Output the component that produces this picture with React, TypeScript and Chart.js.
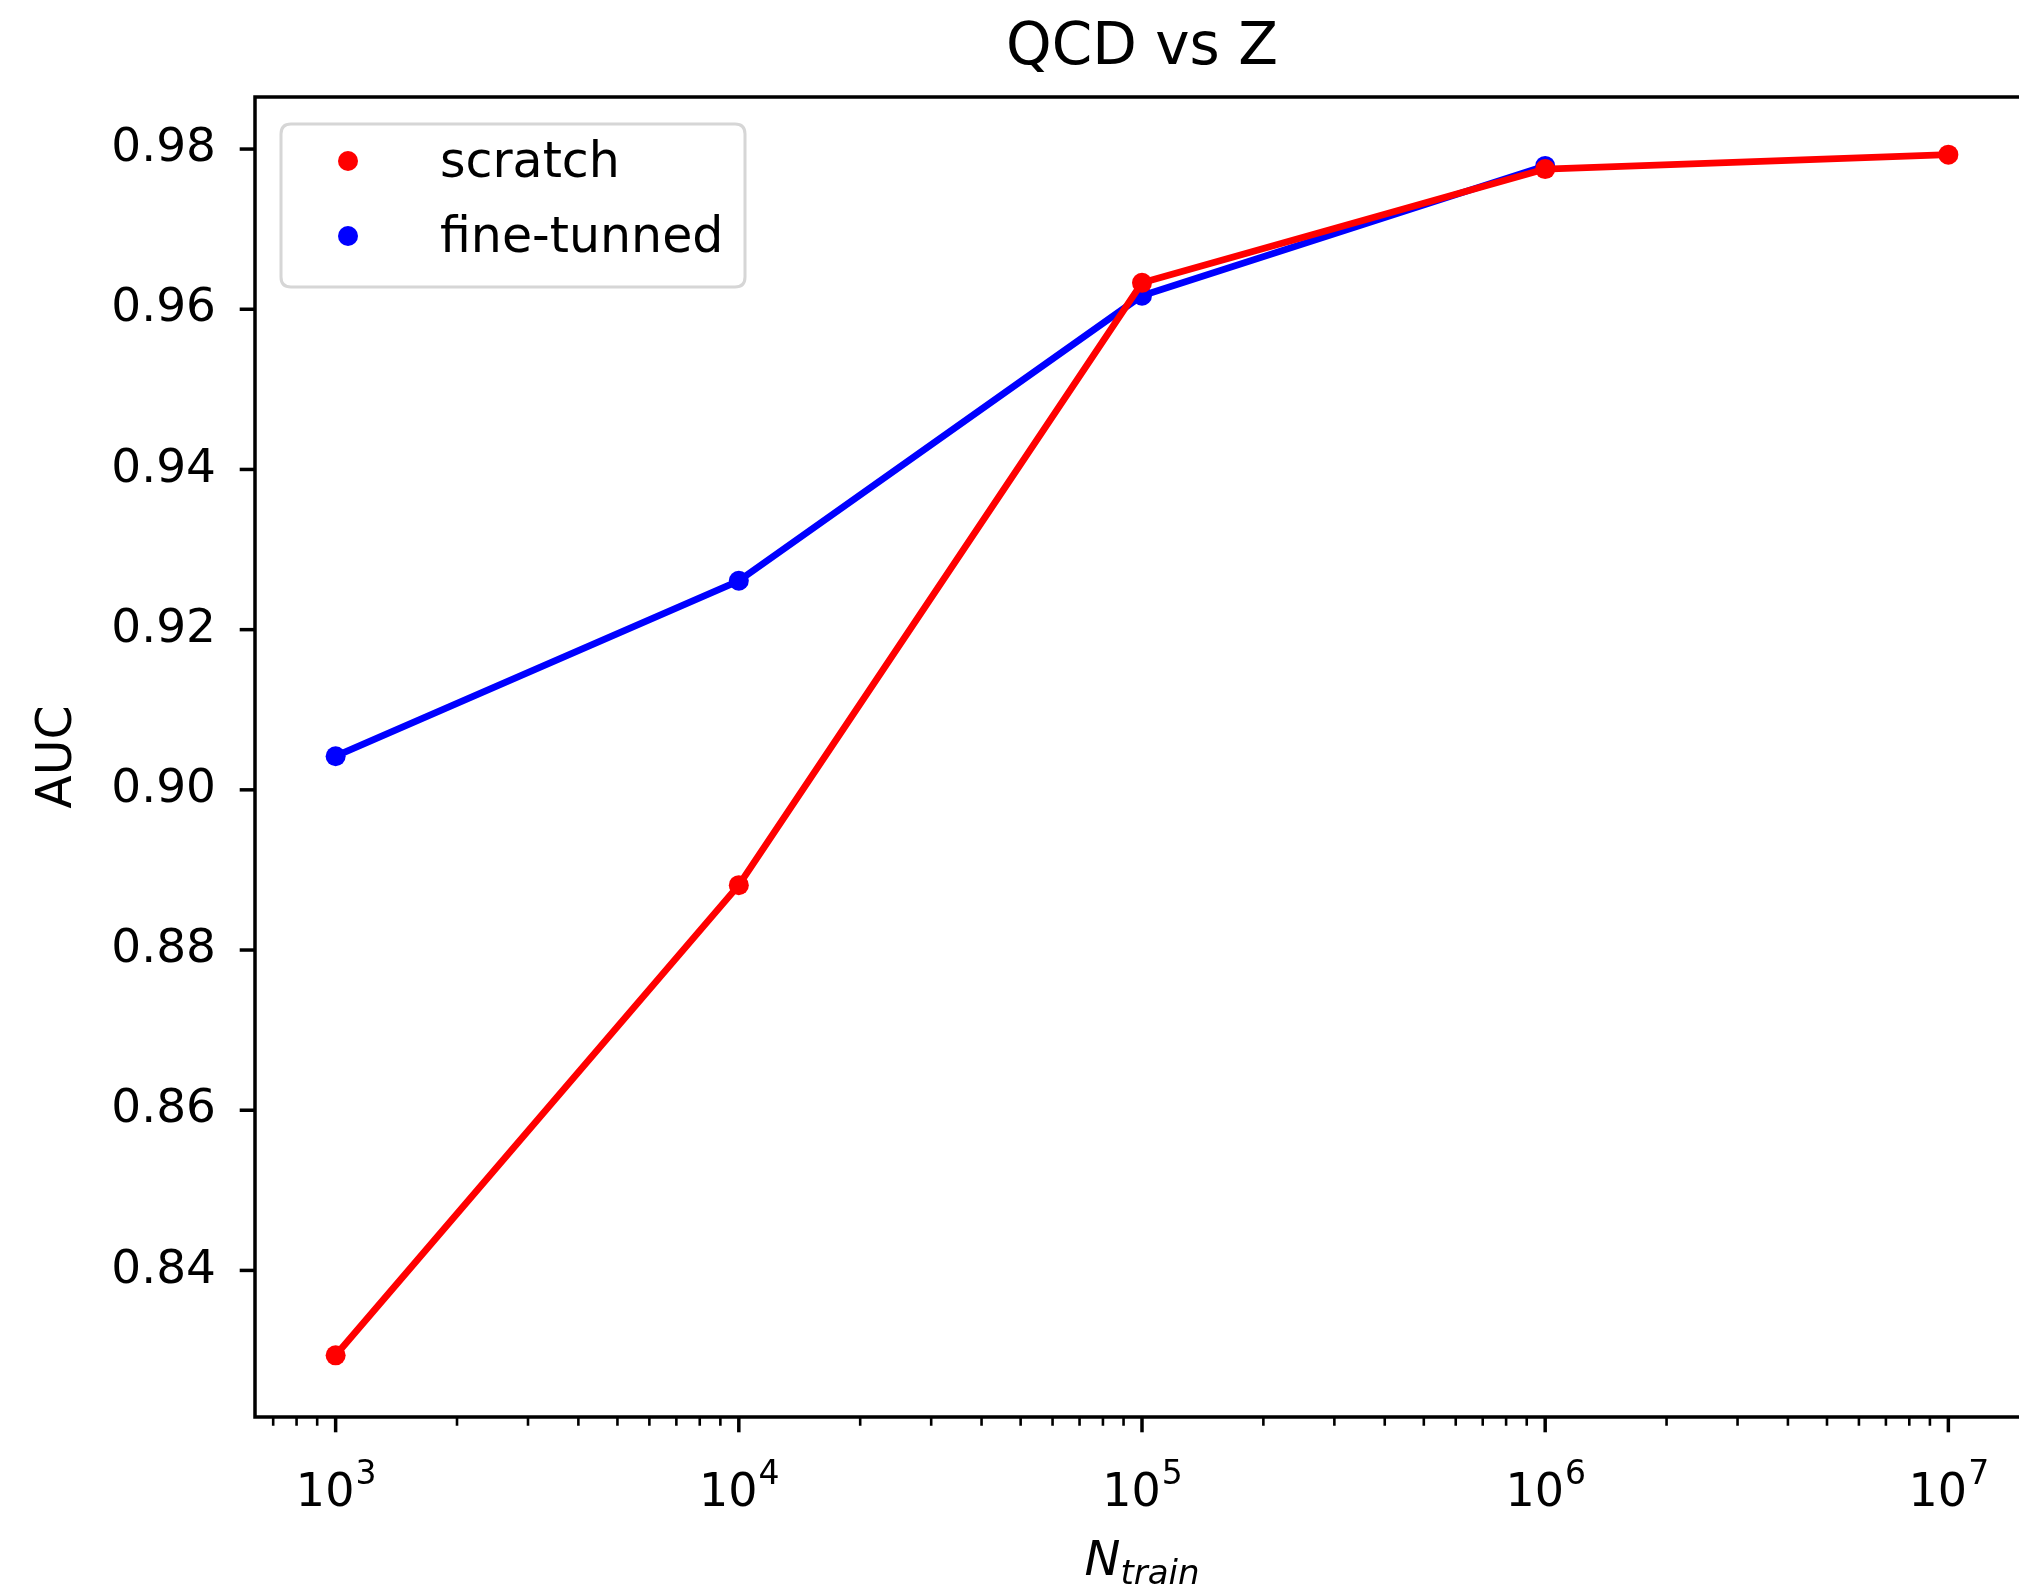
import React, { useEffect, useRef } from 'react';
import { Chart, registerables } from 'chart.js';

Chart.register(...registerables);

// ---- data ----
const nTrain = [1e3, 1e4, 1e5, 1e6, 1e7];
const scratchAUC = [0.8294, 0.8881, 0.9633, 0.9775, 0.9793];
const fineTunedN = [1e3, 1e4, 1e5, 1e6];
const fineTunedAUC = [0.9042, 0.9261, 0.9617, 0.9779];
const seriesLabels = ['scratch', 'fine-tunned'];
const seriesColors = ['#ff0000', '#0000ff'];
const yTickValues = [0.84, 0.86, 0.88, 0.9, 0.92, 0.94, 0.96, 0.98];
const xDecades = [1e3, 1e4, 1e5, 1e6, 1e7];
const xDecadeExponents = ['3', '4', '5', '6', '7'];
const minorMultipliers = [2, 3, 4, 5, 6, 7, 8, 9];
const titleText = 'QCD vs Z';
const yAxisTitle = 'AUC';
const xAxisTitleMain = 'N';
const xAxisTitleSub = 'train';

// ---- layout ----
const CANVAS_W = 2060;
const CANVAS_H = 1592;
const AREA_LEFT = 255;
const AREA_TOP = 97;
const AREA_BOTTOM = 1417;
const AREA_RIGHT = 2029;
const X_MIN = Math.pow(10, 2.8);
const X_MAX = Math.pow(10, 7.2);
const Y_MIN = 0.8217;
const Y_MAX = 0.9865;
const FONT = "'DejaVu Sans', sans-serif";

const decorPlugin = {
  id: 'decor',
  afterDraw(chart: any) {
    const ctx = chart.ctx as CanvasRenderingContext2D;
    const area = chart.chartArea;
    const xs = chart.scales.x;
    const ys = chart.scales.y;
    ctx.save();

    // frame
    ctx.strokeStyle = '#000';
    ctx.lineWidth = 3.5;
    ctx.strokeRect(area.left, area.top, area.right - area.left, area.bottom - area.top);

    // y ticks
    ctx.lineWidth = 3.5;
    yTickValues.forEach((v) => {
      const py = ys.getPixelForValue(v);
      ctx.beginPath();
      ctx.moveTo(area.left - 15.3, py);
      ctx.lineTo(area.left, py);
      ctx.stroke();
    });

    // x ticks (major + minor)
    xDecades.forEach((d, i) => {
      const px = xs.getPixelForValue(d);
      ctx.lineWidth = 3.5;
      ctx.beginPath();
      ctx.moveTo(px, area.bottom);
      ctx.lineTo(px, area.bottom + 15.3);
      ctx.stroke();
      const base = d / 10;
      minorMultipliers.forEach((m) => {
        const v = base * m;
        if (v < X_MIN || v > X_MAX) return;
        const mx = xs.getPixelForValue(v);
        ctx.lineWidth = 2.6;
        ctx.beginPath();
        ctx.moveTo(mx, area.bottom);
        ctx.lineTo(mx, area.bottom + 8.75);
        ctx.stroke();
      });
      if (i === xDecades.length - 1) {
        minorMultipliers.forEach((m) => {
          const v = d * m;
          if (v > X_MAX) return;
          const mx = xs.getPixelForValue(v);
          ctx.lineWidth = 2.6;
          ctx.beginPath();
          ctx.moveTo(mx, area.bottom);
          ctx.lineTo(mx, area.bottom + 8.75);
          ctx.stroke();
        });
      }
    });

    // x tick labels 10^n
    ctx.fillStyle = '#000';
    ctx.textBaseline = 'alphabetic';
    ctx.textAlign = 'left';
    xDecades.forEach((d, i) => {
      const px = xs.getPixelForValue(d);
      ctx.font = `46px ${FONT}`;
      const wBase = ctx.measureText('10').width;
      ctx.font = `33px ${FONT}`;
      const wExp = ctx.measureText(xDecadeExponents[i]).width;
      const start = px - (wBase + wExp) / 2;
      ctx.font = `46px ${FONT}`;
      ctx.fillText('10', start, 1506);
      ctx.font = `33px ${FONT}`;
      ctx.fillText(xDecadeExponents[i], start + wBase + 1, 1484);
    });

    // x axis title N_train
    ctx.font = `italic 48px ${FONT}`;
    const wN = ctx.measureText(xAxisTitleMain).width;
    ctx.font = `italic 34px ${FONT}`;
    const wSub = ctx.measureText(xAxisTitleSub).width;
    const cx = (area.left + area.right) / 2;
    const sx = cx - (wN + wSub) / 2;
    ctx.font = `italic 48px ${FONT}`;
    ctx.fillText(xAxisTitleMain, sx, 1575);
    ctx.font = `italic 34px ${FONT}`;
    ctx.fillText(xAxisTitleSub, sx + wN, 1584);

    // title
    ctx.font = `58px ${FONT}`;
    ctx.textAlign = 'center';
    ctx.fillText(titleText, cx, 64);

    // legend
    const lx0 = area.left + 26;
    const ly0 = area.top + 27;
    const lw = 464;
    const lh = 163;
    const r = 10;
    ctx.beginPath();
    ctx.moveTo(lx0 + r, ly0);
    ctx.lineTo(lx0 + lw - r, ly0);
    ctx.quadraticCurveTo(lx0 + lw, ly0, lx0 + lw, ly0 + r);
    ctx.lineTo(lx0 + lw, ly0 + lh - r);
    ctx.quadraticCurveTo(lx0 + lw, ly0 + lh, lx0 + lw - r, ly0 + lh);
    ctx.lineTo(lx0 + r, ly0 + lh);
    ctx.quadraticCurveTo(lx0, ly0 + lh, lx0, ly0 + lh - r);
    ctx.lineTo(lx0, ly0 + r);
    ctx.quadraticCurveTo(lx0, ly0, lx0 + r, ly0);
    ctx.closePath();
    ctx.fillStyle = 'rgba(255,255,255,0.8)';
    ctx.fill();
    ctx.strokeStyle = '#d6d6d6';
    ctx.lineWidth = 3;
    ctx.stroke();

    const rowY = [ly0 + 37, ly0 + 112];
    const baseY = [ly0 + 53, ly0 + 128];
    seriesLabels.forEach((lab, i) => {
      ctx.fillStyle = seriesColors[i];
      ctx.beginPath();
      ctx.arc(lx0 + 67, rowY[i], 10, 0, Math.PI * 2);
      ctx.fill();
      ctx.fillStyle = '#000';
      ctx.font = `49px ${FONT}`;
      ctx.textAlign = 'left';
      ctx.fillText(lab, lx0 + 159, baseY[i]);
    });

    ctx.restore();
  },
};

export default function App() {
  const canvasRef = useRef<HTMLCanvasElement | null>(null);

  useEffect(() => {
    if (!canvasRef.current) return;
    const chart = new Chart(canvasRef.current, {
      type: 'line',
      data: {
        datasets: [
          {
            label: seriesLabels[0],
            data: nTrain.map((x, i) => ({ x, y: scratchAUC[i] })),
            borderColor: seriesColors[0],
            backgroundColor: seriesColors[0],
            pointBackgroundColor: seriesColors[0],
            borderWidth: 6.8,
            pointRadius: 10,
            pointBorderWidth: 0,
            borderJoinStyle: 'round',
            tension: 0,
          },
          {
            label: seriesLabels[1],
            data: fineTunedN.map((x, i) => ({ x, y: fineTunedAUC[i] })),
            borderColor: seriesColors[1],
            backgroundColor: seriesColors[1],
            pointBackgroundColor: seriesColors[1],
            borderWidth: 6.8,
            pointRadius: 10,
            pointBorderWidth: 0,
            borderJoinStyle: 'round',
            tension: 0,
          },
        ],
      },
      options: {
        animation: false,
        responsive: false,
        devicePixelRatio: 1,
        events: [],
        layout: {
          padding: { top: AREA_TOP, left: 0, right: CANVAS_W - AREA_RIGHT, bottom: 0 },
        },
        plugins: {
          legend: { display: false },
          title: { display: false },
          tooltip: { enabled: false },
        },
        scales: {
          x: {
            type: 'logarithmic',
            min: X_MIN,
            max: X_MAX,
            grid: { display: false, drawTicks: false },
            border: { display: false },
            ticks: { display: false },
            afterFit: (s: any) => {
              s.height = CANVAS_H - AREA_BOTTOM;
            },
          },
          y: {
            type: 'linear',
            min: Y_MIN,
            max: Y_MAX,
            grid: { display: false, drawTicks: false },
            border: { display: false },
            ticks: {
              color: '#000',
              font: { family: FONT, size: 47 },
              padding: 39,
              autoSkip: false,
              callback: (v: any) => Number(v).toFixed(2),
            },
            afterBuildTicks: (s: any) => {
              s.ticks = yTickValues.map((v) => ({ value: v }));
            },
            afterFit: (s: any) => {
              s.width = AREA_LEFT;
            },
            title: {
              display: true,
              text: yAxisTitle,
              color: '#000',
              font: { family: FONT, size: 49 },
              padding: { top: 28.6, bottom: 0 },
            },
          },
        },
      } as any,
      plugins: [decorPlugin],
    });
    return () => chart.destroy();
  }, []);

  return (
    <div
      style={{
        position: 'fixed',
        left: 0,
        top: 0,
        width: 2019,
        height: 1592,
        overflow: 'hidden',
        background: '#fff',
      }}
    >
      <canvas
        ref={canvasRef}
        width={CANVAS_W}
        height={CANVAS_H}
        style={{ display: 'block', width: CANVAS_W, height: CANVAS_H }}
      />
    </div>
  );
}
